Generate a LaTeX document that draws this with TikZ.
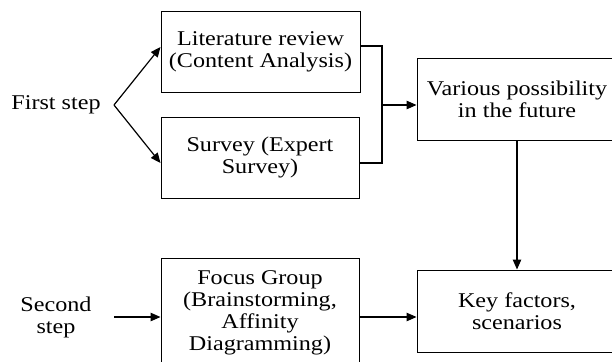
\documentclass[tikz,border=0pt]{standalone}
\usepackage{fontspec}
\setmainfont[FakeStretch=1.15]{Liberation Serif}
\usetikzlibrary{arrows.meta}
\begin{document}
\begin{tikzpicture}[x=1pt,y=-1pt,
  box/.style={draw, line width=1pt, align=center, inner sep=0pt, font=\fontsize{21}{22}\selectfont},
  lbl/.style={align=center, font=\fontsize{21}{22}\selectfont},
  conn/.style={line width=1.2pt, -{Triangle[length=10pt,width=8.5pt]}},
  plain/.style={line width=1.2pt}]
\useasboundingbox (0,0) rectangle (612,361);
\clip (0,0) rectangle (612,361);
\node[box, minimum width=199pt, minimum height=80pt] (lit) at (260.5,52) {Literature review\\(Content Analysis)};
\node[box, minimum width=198pt, minimum height=81pt] (sur) at (260,157.5) {Survey (Expert\\Survey)};
\node[box, minimum width=200pt, minimum height=82pt] (var) at (517,99) {Various possibility\\in the future};
\node[box, minimum width=200pt, minimum height=82pt] (key) at (517,311) {Key factors,\\scenarios};
\node[box, minimum width=198pt, minimum height=110pt] (foc) at (260,313) {Focus Group\\(Brainstorming,\\Affinity\\Diagramming)};
\node[lbl] (first) at (56,105) {First step};
\node[lbl] (second) at (56,317) {Second\\step};
\coordinate (fb) at (114,105);
\coordinate (sb) at (114,317);
\coordinate (m) at (382,105);
\draw[conn] (fb) -- (lit.west |- 0,47);
\draw[conn] (fb) -- (sur.west |- 0,163);
\draw[plain] (lit.east |- 0,46) -- (m |- 0,46) -- (m |- 0,163) -- (sur.east |- 0,163);
\draw[conn] (m) -- (var.west |- m);
\draw[conn] (var.south) -- (key.north);
\draw[conn] (sb) -- (foc.west |- sb);
\draw[conn] (foc.east |- 0,317) -- (key.west |- 0,317);
\end{tikzpicture}
\end{document}
